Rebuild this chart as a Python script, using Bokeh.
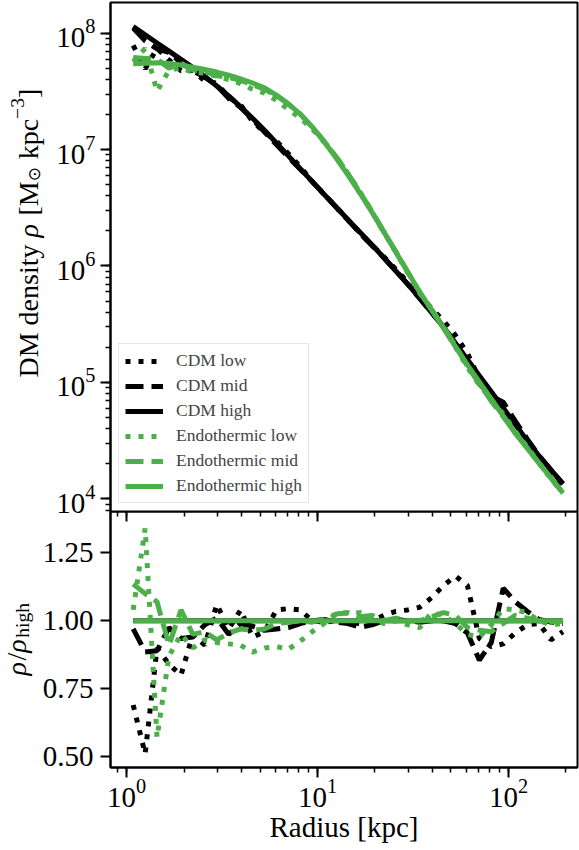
import math
from bokeh.plotting import figure
from bokeh.layouts import column, row
from bokeh.models import (Range1d, LogAxis, LogTicker, FixedTicker,
                          PrintfTickFormatter, Legend, LegendItem)
from bokeh.core.properties import value
from bokeh.embed import file_html
from bokeh.resources import INLINE

# ---------------- data ----------------
radius = [1.084, 1.252, 1.445, 1.669, 1.928, 2.226, 2.570, 2.968, 3.428, 3.958,
          4.571, 5.279, 6.095, 7.039, 8.128, 9.386, 10.84, 12.52, 14.45, 16.69,
          19.28, 22.26, 25.70, 29.68, 34.28, 39.58, 45.71, 52.79, 60.95, 70.39,
          81.28, 93.86, 108.4, 125.2, 144.5, 166.9, 192.8]

log10_rho_cdm_high = [8.057, 7.987, 7.916, 7.846, 7.775, 7.704, 7.629, 7.546, 7.462, 7.367,
                      7.269, 7.166, 7.056, 6.946, 6.835, 6.725, 6.615, 6.507, 6.398, 6.290,
                      6.182, 6.071, 5.957, 5.844, 5.723, 5.600, 5.476, 5.337, 5.197, 5.057,
                      4.919, 4.781, 4.641, 4.500, 4.368, 4.249, 4.130]

log10_rho_endo_high = [7.737, 7.742, 7.746, 7.740, 7.726, 7.708, 7.688, 7.666, 7.640, 7.608,
                       7.572, 7.531, 7.468, 7.393, 7.305, 7.195, 7.068, 6.928, 6.780, 6.625,
                       6.462, 6.293, 6.120, 5.948, 5.776, 5.620, 5.464, 5.308, 5.151, 5.004,
                       4.857, 4.710, 4.563, 4.435, 4.307, 4.179, 4.051]

ratio_cdm_low = [0.69, 0.51, 0.90, 0.84, 0.80, 0.95, 0.91, 1.06, 0.97, 1.04,
                 0.94, 0.96, 1.04, 1.045, 1.04, 1.0, 0.995, 1.0, 0.995, 0.99,
                 1.0, 1.02, 1.035, 1.04, 1.05, 1.085, 1.13, 1.165, 1.13, 0.935,
                 0.905, 0.915, 0.955, 0.985, 0.99, 0.93, 0.96]

ratio_cdm_mid = [0.97, 0.885, 0.89, 0.975, 0.935, 0.94, 0.985, 1.01, 0.95, 0.99,
                 0.98, 0.965, 0.97, 0.975, 0.99, 1.0, 1.005, 0.995, 0.99, 0.976,
                 0.985, 1.0, 1.005, 1.0, 0.995, 1.0, 1.0, 0.99, 0.955, 0.855,
                 0.92, 1.12, 1.07, 1.035, 1.005, 0.995, 0.99]

ratio_endo_low = [1.04, 1.34, 0.57, 0.87, 0.95, 0.90, 0.93, 0.92, 0.915, 0.91,
                  0.885, 0.90, 0.905, 0.895, 0.925, 0.96, 0.99, 1.025, 1.03, 1.03,
                  1.01, 0.99, 1.0, 0.985, 0.975, 1.03, 1.02, 0.99, 0.95, 0.94,
                  0.985, 1.045, 1.04, 1.03, 1.0, 0.985, 0.99]

ratio_endo_mid = [1.135, 1.10, 1.07, 0.91, 1.04, 0.95, 0.96, 0.93, 0.955, 0.97,
                  0.965, 0.97, 0.99, 0.995, 1.0, 0.995, 1.005, 1.025, 1.03, 1.015,
                  1.02, 1.0, 1.01, 1.0, 1.0, 1.015, 1.03, 1.02, 0.975, 0.965,
                  0.96, 0.99, 1.02, 1.01, 1.0, 0.995, 1.0]

ratio_high = [1.0] * len(radius)

ratio_ticks = [0.5, 0.75, 1.0, 1.25]

labels = ["CDM low", "CDM mid", "CDM high",
          "Endothermic low", "Endothermic mid", "Endothermic high"]

# density of every run = high-resolution profile times its ratio (as in the lower panel)
rho_cdm_high = [10 ** v for v in log10_rho_cdm_high]
rho_endo_high = [10 ** v for v in log10_rho_endo_high]
rho_cdm_low = [a * b for a, b in zip(ratio_cdm_low, rho_cdm_high)]
rho_cdm_mid = [a * b for a, b in zip(ratio_cdm_mid, rho_cdm_high)]
rho_endo_low = [a * b for a, b in zip(ratio_endo_low, rho_endo_high)]
rho_endo_mid = [a * b for a, b in zip(ratio_endo_mid, rho_endo_high)]

# ---------------- styles ----------------
BLACK = "#000000"
GREEN = "#4daf4a"
FONT = "Liberation Serif"
LW = 5
DOT = "5 8"
DASH = "18 8"
W, H_TOTAL = 579, 850
LAB_W = 60

series = [
    (labels[0], rho_cdm_low, ratio_cdm_low, BLACK, DOT),
    (labels[1], rho_cdm_mid, ratio_cdm_mid, BLACK, DASH),
    (labels[2], rho_cdm_high, ratio_high, BLACK, "solid"),
    (labels[3], rho_endo_low, ratio_endo_low, GREEN, DOT),
    (labels[4], rho_endo_mid, ratio_endo_mid, GREEN, DASH),
    (labels[5], rho_endo_high, ratio_high, GREEN, "solid"),
]


def style_axis(ax, size="29px"):
    ax.axis_line_width = 2
    ax.major_tick_line_width = 2
    ax.minor_tick_line_width = 1.5
    ax.major_tick_out = 10
    ax.major_tick_in = 0
    ax.minor_tick_out = 5
    ax.minor_tick_in = 0
    ax.major_label_text_font = FONT
    ax.major_label_text_font_size = size
    ax.major_label_text_color = "black"
    ax.axis_label_text_font = FONT
    ax.axis_label_text_font_size = size
    ax.axis_label_text_font_style = "normal"
    ax.axis_label_text_color = "black"


# ---------------- strip holding the rotated y titles (drawn underneath) ----------------
lab = figure(width=LAB_W, height=H_TOTAL, x_range=Range1d(0, LAB_W),
             y_range=Range1d(0, H_TOTAL), x_axis_location=None,
             y_axis_location=None, toolbar_location=None, output_backend="svg",
             min_border=0)
lab.grid.visible = False
lab.outline_line_color = None


def rot_text(x0, y_top, pieces):
    """Title reading bottom-to-top, written piece by piece.
    x0: baseline (px from left), y_top: start point (px from the top)."""
    y = H_TOTAL - y_top
    for text, size, style, font, shift, adv in pieces:
        lab.text(x=[x0 - shift], y=[y], text=[text], angle=math.pi / 2,
                 text_font=value(font), text_font_size=value(f"{size}px"),
                 text_font_style=style, text_align="left",
                 text_baseline="alphabetic", text_color="black")
        y += adv


rot_text(28, 377, [
    ("DM density", 28, "normal", FONT, 0, 140.0),
    ("\u03c1", 28, "italic", FONT, 0, 22.0),
    ("[M", 28, "normal", FONT, 0, 34.2),
    ("\u2299", 17, "normal", "DejaVu Sans", -5, 22.0),
    ("kpc", 28, "normal", FONT, 0, 40.4),
    ("\u22123", 19.6, "normal", FONT, 11, 21.0),
    ("]", 28, "normal", FONT, 0, 9.3),
])

rot_text(16, 675, [
    ("\u03c1", 28, "italic", FONT, 0, 15.0),
    ("/", 28, "normal", FONT, 0, 7.8),
    ("\u03c1", 28, "italic", FONT, 0, 15.0),
    ("high", 19.6, "normal", FONT, -6, 35.0),
])

# ---------------- top panel ----------------
top = figure(width=W, height=530, x_axis_type="log", y_axis_type="log",
             x_range=Range1d(0.8245, 229.8), y_range=Range1d(7.78e3, 1.835e8),
             x_axis_location=None, toolbar_location=None, output_backend="svg",
             min_border_left=110, min_border_right=2, min_border_top=2,
             min_border_bottom=19)
top.border_fill_color = None
top.grid.visible = False
top.outline_line_color = "black"
top.outline_line_width = 2
top.yaxis.ticker = LogTicker(num_minor_ticks=10)
style_axis(top.yaxis[0])
top.yaxis.major_label_standoff = 5

items = []
for name, rho, _, col, dash in series:
    r = top.line(radius, rho, line_color=col, line_width=LW, line_dash=dash)
    items.append(LegendItem(label=name, renderers=[r]))

legend = Legend(items=items, location="bottom_left", margin=8, padding=6,
                spacing=4, glyph_width=38, glyph_height=20, label_height=20,
                label_standoff=13, label_text_font=FONT,
                label_text_font_size="17.5px", label_text_baseline="middle",
                border_line_color="#cccccc", border_line_width=1.5,
                background_fill_color="white", background_fill_alpha=0.8)
top.add_layout(legend)

# ---------------- bottom panel ----------------
bot = figure(width=W, height=339, x_axis_type="log", x_range=top.x_range,
             y_range=Range1d(0.4599, 1.4024), toolbar_location=None,
             output_backend="svg", min_border_left=110, min_border_right=2,
             min_border_top=0, min_border_bottom=83)
bot.margin = (-19, 0, 0, 0)
bot.border_fill_color = None
bot.grid.visible = False
bot.outline_line_color = "black"
bot.outline_line_width = 2
bot.xaxis.ticker = LogTicker(num_minor_ticks=10)
style_axis(bot.xaxis[0])
bot.xaxis.axis_label = "Radius [kpc]"
bot.xaxis.major_label_standoff = 1
bot.xaxis.axis_label_standoff = 1
bot.yaxis.ticker = FixedTicker(ticks=ratio_ticks, minor_ticks=[])
bot.yaxis.formatter = PrintfTickFormatter(format="%.2f")
style_axis(bot.yaxis[0])
bot.yaxis.major_label_standoff = 7

top_ticks = LogAxis(ticker=LogTicker(num_minor_ticks=10))
style_axis(top_ticks, size="1px")
top_ticks.major_label_text_alpha = 0
top_ticks.major_label_standoff = 0
top_ticks.major_tick_in = 10
top_ticks.major_tick_out = 0
top_ticks.minor_tick_in = 5
top_ticks.minor_tick_out = 0
bot.add_layout(top_ticks, "above")

for name, _, ratio, col, dash in series:
    bot.line(radius, ratio, line_color=col, line_width=LW, line_dash=dash)

panels = column(top, bot, spacing=0)
panels.margin = (0, 0, 0, -LAB_W)
layout = row(lab, panels, spacing=0)
open("out.html", "w").write(file_html(layout, INLINE))
